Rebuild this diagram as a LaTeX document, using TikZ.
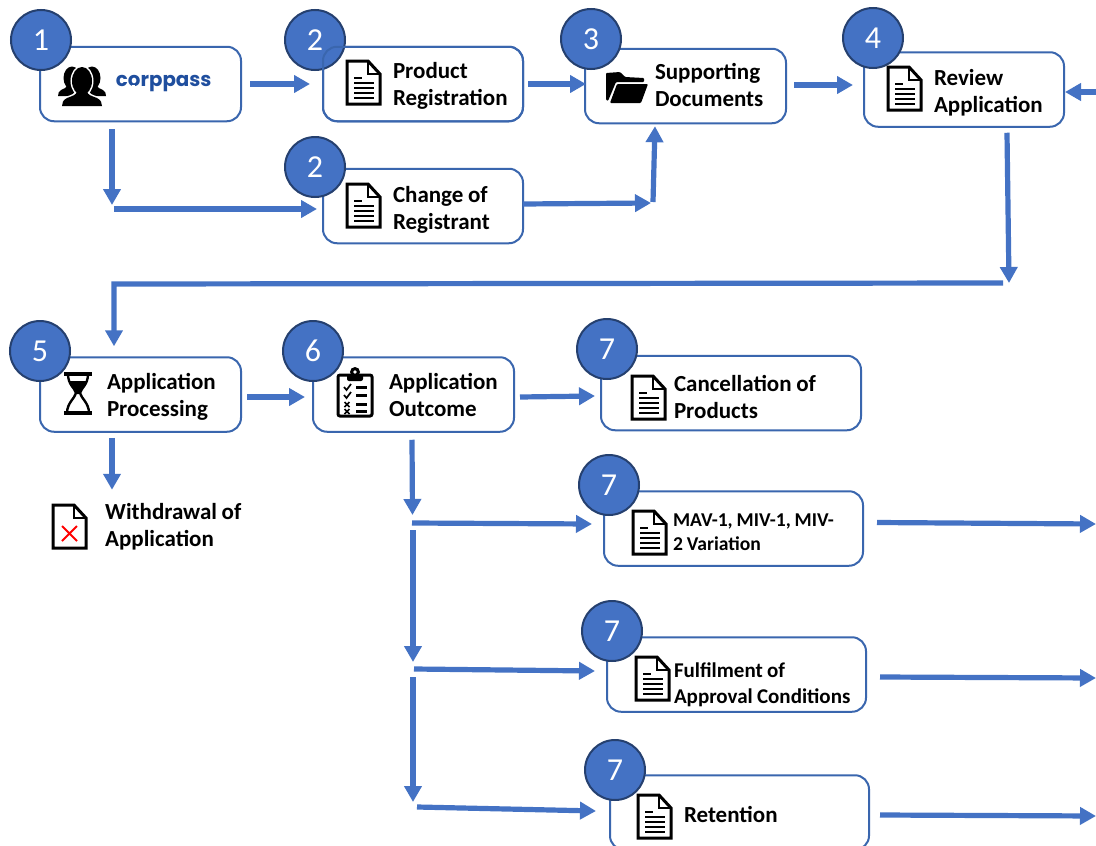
\documentclass[tikz,border=0pt]{standalone}
\usepackage{fontspec}
\setmainfont{Carlito}
\newfontfamily\logofont{Poppins}
\usetikzlibrary{arrows.meta}
\definecolor{flowc}{HTML}{4472C4}
\definecolor{boxc}{HTML}{3A66AE}
\definecolor{ringc}{HTML}{25406F}
\definecolor{logoc}{HTML}{1F4E9E}
\tikzset{
  x=1pt,y=-1pt,
  box/.style 2 args={rectangle,rounded corners=14pt,draw=boxc,fill=white,line width=2pt,outer sep=0pt,
    minimum width=#1,text width=#1,minimum height=74.5pt,inner xsep=0pt,inner ysep=0pt,
    font=\fontsize{23}{27}\selectfont\bfseries,align=left,
    execute at begin node={\leftskip=#2pt\relax\spaceskip=.2em\relax}},
  ts/.style={execute at begin node={\leavevmode\rule{0pt}{#1pt}},
    execute at end node={\rule[-6pt]{0pt}{6pt}}},
  badge/.style={circle,draw=ringc,fill=flowc,line width=2pt,minimum size=60pt,inner sep=0pt,
    text=white,font=\fontsize{32}{32}\selectfont},
  flow/.style={draw=flowc,line width=5.2pt,-{Triangle[length=16pt,width=17pt]}},
  docicon/.pic={
    \fill[white] (0,0)--(21,0)--(33,13)--(33,43)--(0,43)--cycle;
    \draw[line width=3pt,miter limit=4] (0,0)--(21,0)--(33,13)--(33,43)--(0,43)--cycle;
    \draw[line width=2pt] (21,0)--(21,13)--(33,13);
  },
  doclines/.pic={
    \draw[line width=2.1pt] (7,17)--(15,17) (7,22)--(27,22) (7,27)--(27,27) (7,32)--(27,32) (7,37)--(27,37);
  },
  peopleicon/.pic={
    \fill (14,11) ellipse[x radius=8.5,y radius=11.5];
    \fill (34,11) ellipse[x radius=8.5,y radius=11.5];
    \fill (9,18) .. controls (9,21) and (5,22) .. (3,23) .. controls (1,24) and (0,26) .. (0,29) -- (14,29) -- (20,18) -- cycle;
    \fill (39,18) .. controls (39,21) and (43,22) .. (45,23) .. controls (47,24) and (48,26) .. (48,29) -- (34,29) -- (28,18) -- cycle;
    \draw[white,line width=3pt] (24,14) ellipse[x radius=10,y radius=14]
      (19,24) .. controls (19,28) and (14,29) .. (9,31) .. controls (5,33) and (4,36) .. (4,39) -- (44,39)
      .. controls (44,36) and (43,33) .. (39,31) .. controls (34,29) and (29,28) .. (29,24) -- cycle;
    \fill (24,14) ellipse[x radius=10,y radius=14];
    \fill (19,24) .. controls (19,28) and (14,29) .. (9,31) .. controls (5,33) and (4,36) .. (4,39) -- (44,39)
      .. controls (44,36) and (43,33) .. (39,31) .. controls (34,29) and (29,28) .. (29,24) -- cycle;
  },
  hourglassicon/.pic={
    \draw[line width=3.2pt] (0,1)--(28,1) (0,40)--(28,40);
    \draw[line width=2.4pt] (4,1) .. controls (4,12) and (11,15) .. (12,20) .. controls (11,25) and (3,30) .. (3,40)
      (24,1) .. controls (24,12) and (17,15) .. (16,20) .. controls (17,25) and (25,30) .. (25,40);
    \fill (5,8)--(23,8) .. controls (22,14) and (16,16) .. (15.5,21) -- (12.5,21) .. controls (12,16) and (6,14) .. (5,8) -- cycle;
  },
  clipicon/.pic={
    \draw[line width=3pt,rounded corners=2pt] (1,7) rectangle (35,48);
    \fill[rounded corners=2pt] (10,6) rectangle (26,13);
    \fill (18,4) circle[radius=5];
    \fill[white] (18,4) circle[radius=1.8];
    \draw[line width=1.7pt] (7,19)--(9.5,22)--(14,16) (7,27)--(9.5,30)--(14,24);
    \draw[line width=1.7pt] (7.5,34)--(12.5,39) (12.5,34)--(7.5,39) (7.5,41)--(12.5,46) (12.5,41)--(7.5,46);
    \draw[line width=2.2pt] (19,19.5)--(30,19.5) (19,27.5)--(30,27.5) (19,36.5)--(30,36.5) (19,43.5)--(30,43.5);
  },
  foldericon/.pic={
    \fill[rounded corners=1pt] (0,28)--(0,1)--(14,0)--(19,5)--(38,6)--(38,10)--(10,10)--(2,29)--cycle;
    \fill[rounded corners=1pt] (11,12)--(42,12)--(35,31)--(4,31)--cycle;
  }
}
\begin{document}
\begin{tikzpicture}
\useasboundingbox (0,0) rectangle (1096,846);
\clip (0,0) rectangle (1096,846);
\fill[white] (0,0) rectangle (1096,846);

% boxes
\node[box={201pt}{76}] (b1) at (140.5,84) {\logofont\fontsize{19.8}{24}\selectfont\bfseries\textcolor{logoc}{corppass}};
\node[box={200pt}{70},ts=22.5] (b2a) at (423,84) {Product\\Registration};
\node[box={200pt}{70},ts=26.5] (b2b) at (423,206) {Change of\\Registrant};
\node[box={201pt}{70},ts=20.5] (b3) at (685.5,86) {Supporting\\Documents};
\node[box={200pt}{70},ts=25.5] (b4) at (964,89.5) {Review\\Application};
\node[box={201pt}{67},ts=23.5] (b5) at (140.5,394.5) {Application\\Processing};
\node[box={201pt}{76},ts=23.5] (b6) at (413.5,394.5) {Application\\Outcome};
\node[box={260pt}{73},ts=30.5] (b7a) at (731,393) {Cancellation of\\Products};
\node[box={259pt}{69},ts=25.8,font=\fontsize{19.6}{24}\selectfont\bfseries] (b7b) at (733.5,528.5) {MAV-1, MIV-1, MIV-\\2 Variation};
\node[box={259pt}{67},ts=38.8,font=\fontsize{21}{26}\selectfont\bfseries] (b7c) at (736.5,674.5) {Fulfilment of\\Approval Conditions};
\node[box={259pt}{74},ts=26.5] (b7d) at (739.5,812.5) {Retention};
\node[anchor=west,inner sep=0pt,align=left,font=\fontsize{23}{27}\selectfont\bfseries,
  execute at begin node={\spaceskip=.2em\relax}] (w) at (105,526.5) {Withdrawal of\\Application};

% badges
\node[badge] (n1) at (41,40) {1};
\node[badge] (n2a) at (315,40) {2};
\node[badge] (n2b) at (315,167) {2};
\node[badge] (n3) at (591,39) {3};
\node[badge] (n4) at (873,38) {4};
\node[badge] (n5) at (40,351) {5};
\node[badge] (n6) at (313,351) {6};
\node[badge] (n7a) at (607,349) {7};
\node[badge] (n7b) at (609,485) {7};
\node[badge] (n7c) at (612,631) {7};
\node[badge] (n7d) at (615,770) {7};
\draw[draw=boxc,line width=2pt,rounded corners=14pt] (b2a.north west) rectangle (b2a.south east);

% free ends
\coordinate (c1) at (112,205);
\coordinate (c2) at (114,209);
\coordinate (c3) at (651,203);
\coordinate (c4) at (653,202);
\coordinate (c5) at (1096,92);
\coordinate (c6) at (1009,283);
\coordinate (c7) at (1003,283);
\coordinate (c8) at (114,284);
\coordinate (c9) at (412.5,515);
\coordinate (c10) at (412,523);
\coordinate (c11) at (413,530);
\coordinate (c12) at (413,662);
\coordinate (c13) at (414,669);
\coordinate (c14) at (413,677);
\coordinate (c15) at (413,802);
\coordinate (c16) at (417,807);
\coordinate (c17) at (1096,524);
\coordinate (c18) at (1096,678);
\coordinate (c19) at (1096,816);

% connectors
\draw[flow] ([shift={(9,0)}]b1.east) -- ([shift={(-13,0)}]b2a.west);
\draw[flow] ([shift={(-28.5,8)}]b1.south) -- (c1);
\draw[flow] (c2) -- ([shift={(-6,3)}]b2b.west);
\draw[flow] ([shift={(5,0)}]b2a.east) -- ([shift={(1,-2)}]b3.west);
\draw[flow] ([shift={(0,-2)}]b2b.east) -- (c3);
\draw[flow] (c4) -- ([shift={(-30.5,3)}]b3.south);
\draw[flow] ([shift={(8,-1)}]b3.east) -- ([shift={(-11,-4.5)}]b4.west);
\draw[flow] (c5) -- ([shift={(1,2.5)}]b4.east);
\draw[flow] ([shift={(43,6)}]b4.south) -- (c6);
\draw[flow] (c7) -- (c8) -- ([shift={(-26.5,-11)}]b5.north);
\draw[flow] ([shift={(6,2.5)}]b5.east) -- ([shift={(-8,2.5)}]b6.west);
\draw[flow] ([shift={(-28.5,6)}]b5.south) -- ([shift={(-28.5,58)}]b5.south);
\draw[flow] ([shift={(6,2.5)}]b6.east) -- ([shift={(-6,3)}]b7a.west);
\draw[flow] ([shift={(-1.5,8)}]b6.south) -- (c9);
\draw[flow] (c10) -- ([shift={(-12,-4.5)}]b7b.west);
\draw[flow] (c11) -- (c12);
\draw[flow] (c13) -- ([shift={(-12,-3.5)}]b7c.west);
\draw[flow] (c14) -- (c15);
\draw[flow] (c16) -- ([shift={(-14,-1.5)}]b7d.west);
\draw[flow] ([shift={(14,-6)}]b7b.east) -- (c17);
\draw[flow] ([shift={(14,2.5)}]b7c.east) -- (c18);
\draw[flow] ([shift={(11,2.5)}]b7d.east) -- (c19);

% icons
\pic at (58,67) {peopleicon};
\fill[white] (131.5,84.5) rectangle (134.5,90);
\foreach \px/\py in {347/61,347/184,888/67,632/376,633/511,636/657,638/795}{
  \pic at (\px,\py) {docicon};
  \pic at (\px,\py) {doclines};
}
\pic at (53,505) {docicon};
\draw[red,line width=2pt] (62,526)--(77,541) (77,526)--(62,541);
\pic at (64,373) {hourglassicon};
\pic at (337,368) {clipicon};
\pic at (606,72) {foldericon};
\end{tikzpicture}
\end{document}
